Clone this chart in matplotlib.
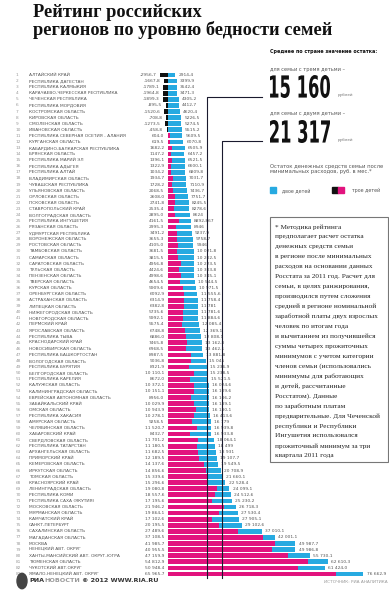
import matplotlib
matplotlib.use('Agg')
import matplotlib.pyplot as plt
import matplotlib.transforms as mtransforms
from matplotlib.patches import Rectangle, Circle, PathPatch
from matplotlib.textpath import TextPath
from matplotlib.font_manager import FontProperties

# Регионы и значения остатка (руб. в мес.)
regions = [
    "АЛТАЙСКИЙ КРАЙ", "РЕСПУБЛИКА ДАГЕСТАН", "РЕСПУБЛИКА КАЛМЫКИЯ",
    "КАРАЧАЕВО-ЧЕРКЕССКАЯ РЕСПУБЛИКА", "ЧЕЧЕНСКАЯ РЕСПУБЛИКА", "РЕСПУБЛИКА МОРДОВИЯ",
    "КОСТРОМСКАЯ ОБЛАСТЬ", "КИРОВСКАЯ ОБЛАСТЬ", "СМОЛЕНСКАЯ ОБЛАСТЬ", "ИВАНОВСКАЯ ОБЛАСТЬ",
    "РЕСПУБЛИКА СЕВЕРНАЯ ОСЕТИЯ - АЛАНИЯ", "КУРГАНСКАЯ ОБЛАСТЬ",
    "КАБАРДИНО-БАЛКАРСКАЯ РЕСПУБЛИКА", "БРЯНСКАЯ ОБЛАСТЬ", "РЕСПУБЛИКА МАРИЙ ЭЛ",
    "РЕСПУБЛИКА АДЫГЕЯ", "РЕСПУБЛИКА АЛТАЙ", "ВЛАДИМИРСКАЯ ОБЛАСТЬ", "ЧУВАШСКАЯ РЕСПУБЛИКА",
    "УЛЬЯНОВСКАЯ ОБЛАСТЬ", "ОРЛОВСКАЯ ОБЛАСТЬ", "ПСКОВСКАЯ ОБЛАСТЬ", "СТАВРОПОЛЬСКИЙ КРАЙ",
    "ВОЛГОГРАДСКАЯ ОБЛАСТЬ", "РЕСПУБЛИКА ИНГУШЕТИЯ", "РЯЗАНСКАЯ ОБЛАСТЬ",
    "УДМУРТСКАЯ РЕСПУБЛИКА", "ВОРОНЕЖСКАЯ ОБЛАСТЬ", "РОСТОВСКАЯ ОБЛАСТЬ",
    "ТАМБОВСКАЯ ОБЛАСТЬ", "САМАРСКАЯ ОБЛАСТЬ", "САРАТОВСКАЯ ОБЛАСТЬ", "ТУЛЬСКАЯ ОБЛАСТЬ",
    "ПЕНЗЕНСКАЯ ОБЛАСТЬ", "ТВЕРСКАЯ ОБЛАСТЬ", "КУРСКАЯ ОБЛАСТЬ", "ОРЕНБУРГСКАЯ ОБЛАСТЬ",
    "АСТРАХАНСКАЯ ОБЛАСТЬ", "ЛИПЕЦКАЯ ОБЛАСТЬ", "НИЖЕГОРОДСКАЯ ОБЛАСТЬ",
    "НОВГОРОДСКАЯ ОБЛАСТЬ", "ПЕРМСКИЙ КРАЙ", "ЯРОСЛАВСКАЯ ОБЛАСТЬ", "РЕСПУБЛИКА ТЫВА",
    "КРАСНОДАРСКИЙ КРАЙ", "НОВОСИБИРСКАЯ ОБЛАСТЬ", "РЕСПУБЛИКА БАШКОРТОСТАН",
    "ВОЛОГОДСКАЯ ОБЛАСТЬ", "РЕСПУБЛИКА БУРЯТИЯ", "БЕЛГОРОДСКАЯ ОБЛАСТЬ",
    "РЕСПУБЛИКА КАРЕЛИЯ", "КАЛУЖСКАЯ ОБЛАСТЬ", "КАЛИНИНГРАДСКАЯ ОБЛАСТЬ",
    "ЕВРЕЙСКАЯ АВТОНОМНАЯ ОБЛАСТЬ", "ЗАБАЙКАЛЬСКИЙ КРАЙ", "ОМСКАЯ ОБЛАСТЬ",
    "РЕСПУБЛИКА ХАКАСИЯ", "АМУРСКАЯ ОБЛАСТЬ", "ЧЕЛЯБИНСКАЯ ОБЛАСТЬ", "ХАБАРОВСКИЙ КРАЙ",
    "СВЕРДЛОВСКАЯ ОБЛАСТЬ", "РЕСПУБЛИКА ТАТАРСТАН", "АРХАНГЕЛЬСКАЯ ОБЛАСТЬ",
    "ПРИМОРСКИЙ КРАЙ", "КЕМЕРОВСКАЯ ОБЛАСТЬ", "ИРКУТСКАЯ ОБЛАСТЬ", "ТОМСКАЯ ОБЛАСТЬ",
    "КРАСНОЯРСКИЙ КРАЙ", "ЛЕНИНГРАДСКАЯ ОБЛАСТЬ", "РЕСПУБЛИКА КОМИ",
    "РЕСПУБЛИКА САХА (ЯКУТИЯ)", "МОСКОВСКАЯ ОБЛАСТЬ", "МУРМАНСКАЯ ОБЛАСТЬ",
    "КАМЧАТСКИЙ КРАЙ", "САНКТ-ПЕТЕРБУРГ", "САХАЛИНСКАЯ ОБЛАСТЬ", "МАГАДАНСКАЯ ОБЛАСТЬ",
    "МОСКВА", "НЕНЕЦКИЙ АВТ. ОКРУГ", "ХАНТЫ-МАНСИЙСКИЙ АВТ. ОКРУГ-ЮГРА",
    "ТЮМЕНСКАЯ ОБЛАСТЬ", "ЧУКОТСКИЙ АВТ.ОКРУГ", "ЯМАЛО-НЕНЕЦКИЙ АВТ. ОКРУГ",
]

# трое детей
three_kids = [
    "-2956,7", "-1667,8", "-1789,1", "-1964,8", "-1899,3", "-895,5", "-1520,6", "-708,8",
    "-1273,5", "-458,8", "604,0", "619,5", "1682,2", "1147,2", "1396,1", "1322,9",
    "1034,2", "1934,7", "1728,2", "2068,5", "2608,0", "2741,8", "2535,4", "2895,0",
    "4161,5", "2995,3", "3491,2", "3655,3", "4105,0", "3681,5", "3815,5", "4956,8",
    "4424,6", "4998,6", "4654,5", "5909,6", "6092,9", "6314,9", "6382,8", "5735,6",
    "5992,1", "5575,4", "6748,8", "6886,0", "7465,8", "6968,5", "8987,5", "9036,8",
    "8321,9", "10 110,1", "8672,0", "10 372,1", "10 151,1", "8956,0", "10 029,9",
    "10 943,9", "10 278,1", "9258,5", "11 520,7", "8432,7", "11 701,2", "11 180,5",
    "11 682,5", "12 189,5", "14 137,6", "14 856,6", "15 339,6", "15 296,6", "19 080,8",
    "18 557,6", "17 195,6", "21 946,2", "19 864,1", "17 102,6", "20 195,5", "27 489,6",
    "37 108,5", "41 985,7", "40 955,5", "47 159,9", "54 812,9", "50 948,4", "65 965,7",
]

# двое детей
two_kids = [
    "2914,4", "3399,9", "3542,4", "3471,3", "4305,2", "4412,7", "4620,4", "5226,5",
    "5274,5", "5515,2", "5609,5", "6070,8", "6505,9", "6457,2", "6521,5", "6600,1",
    "6809,8", "7031,7", "7110,9", "7436,7", "7751,7", "8245,5", "8278,6", "8624",
    "8892,867", "8946", "9237,9", "9758,7", "9946", "10 021,8", "10 202,5", "10 223,5",
    "10 303,8", "10 345,1", "10 544,5", "10 971,5", "11 555,6", "11 758,4", "11 781",
    "11 781,6", "11 884,6", "12 085,4", "12 369,1", "12 808,1", "13 162,8", "13 462,1",
    "13 881,8", "15 045", "15 236,9", "15 238,5", "15 521,5", "16 024,6", "16 109,6",
    "16 106,2", "16 189,1", "16 180,1", "16 413,6", "16 779", "16 939,8", "16 933,8",
    "18 064,1", "18 499", "18 931", "19 107,7", "19 549,5", "20 708,9", "21 660,1",
    "22 528,4", "24 099,1", "24 512,6", "25 230,2", "26 718,3", "27 530,4", "27 905,1",
    "29 102,6", "37 010,1", "42 001,1", "49 987,7", "49 986,8", "55 730,1", "62 610,3",
    "61 424,0", "76 662,9",
]

averages = [15160, 21317]
avg_labels = ["15 160", "21 317"]

footnote_lines = [
    "* Методика рейтинга", "предполагает расчет остатка", "денежных средств семьи",
    "в регионе после минимальных", "расходов на основании данных",
    "Росстата за 2011 год. Расчет для", "семьи, в целях ранжирования,",
    "производился путем сложения", "средней в регионе номинальной",
    "заработной платы двух взрослых", "человек по итогам года",
    "и вычитанием из получившейся", "суммы четырех прожиточных",
    "минимумов с учетом категории", "членов семьи (использовались",
    "минимумы для работающих", "и детей, рассчитанные", "Росстатом). Данные",
    "по заработным платам", "предварительные. Для Чеченской", "республики и Республики",
    "Ингушетия использовался", "прожиточный минимум за три", "квартала 2011 года",
]

BLUE = '#27aae1'
MAGENTA = '#e2137e'
BLACK = '#111111'
NARROW = ['Liberation Sans Narrow', 'DejaVu Sans']
SERIF = ['Liberation Serif', 'DejaVu Serif']


def to_num(s):
    return float(s.replace(' ', '').replace(',', '.'))


v3 = [to_num(s) for s in three_kids]
v2 = [to_num(s) for s in two_kids]
rows = list(range(1, len(regions) + 1))

W, H = 389, 600
fig = plt.figure(figsize=(W / 100, H / 100), dpi=100)


def fx(px):
    return px / W


def fy(py):
    return 1 - py / H


# оси с полосами: ноль на 168 px, 2.55 px на 1000 руб.
x0, scale = 168, 2.55 / 1000
ax_l, ax_r = 140, 389
ax_t, ax_b = 70, 578
ax = fig.add_axes([fx(ax_l), fy(ax_b), (ax_r - ax_l) / W, (ax_b - ax_t) / H])
ax.set_xlim((ax_l - x0) / scale, (ax_r - x0) / scale)
row_pitch = 6.085
ax.set_ylim(1 + (ax_b - 75) / row_pitch, 1 + (ax_t - 75) / row_pitch)
ax.axis('off')

bh = 0.78
ax.barh(rows, v2, height=bh, color=BLUE, zorder=2)
pos3 = [max(v, 0) for v in v3]
neg3 = [min(v, 0) for v in v3]
ax.barh(rows, pos3, height=bh, color=MAGENTA, zorder=3)
ax.barh(rows, neg3, height=bh, color=BLACK, zorder=3)

# линии средних значений
line_top_rows = [1 + (97 - 75) / row_pitch, 1 + (141 - 75) / row_pitch]
x_end = (262 - x0) / scale
for avg, ytop in zip(averages, line_top_rows):
    ax.plot([avg, avg, x_end], [83.6, ytop, ytop], color='#1a1a2e', lw=0.8,
            zorder=5, clip_on=False)

# подписи строк
tr = mtransforms.blended_transform_factory(fig.transFigure, ax.transData)
for r, name, s3, s2, a, b in zip(rows, regions, three_kids, two_kids, v3, v2):
    ax.text(fx(16), r, str(r), transform=tr, fontsize=3.1, color='#999999',
            va='center', ha='left', family=NARROW)
    ax.text(fx(29), r, name, transform=tr, fontsize=3.2, color='#555555',
            va='center', ha='left', family=NARROW)
    ax.annotate(s3, (min(a, 0), r), xytext=(-2.6, 0), textcoords='offset points',
                fontsize=3.2, color='#555555', va='center', ha='right', family=NARROW)
    ax.annotate(s2, (b, r), xytext=(2.2, 0), textcoords='offset points',
                fontsize=3.2, color='#555555', va='center', ha='left', family=NARROW)

# заголовок
fig.text(fx(33), fy(4), "Рейтинг российских\nрегионов по уровню бедности семей",
         fontsize=13.2, fontweight='bold', family=SERIF,
         va='top', ha='left', linespacing=1.0, color='#111111')


# крупные цифры в узком начертании
def big_number(s, left, top, bottom, width):
    tp = TextPath((0, 0), s, size=1,
                  prop=FontProperties(family='Liberation Sans Narrow', weight='bold'))
    ext = tp.get_extents()
    t = (mtransforms.Affine2D().translate(-ext.x0, -ext.y0)
         .scale(width / ext.width, (bottom - top) / ext.height)
         .translate(left, H - bottom))
    fig.patches.append(PathPatch(tp, transform=t, facecolor='#111111', lw=0, figure=fig))


# правая панель
fig.text(fx(270), fy(52), "Среднее по стране значение остатка:", fontsize=3.55,
         fontweight='bold', family=NARROW, va='center', color='#111111')
subs = ["для семьи с тремя детьми –", "для семьи с двумя детьми –"]
sub_y = [69, 113]
big_top = [75, 120]
for s, sy, bt, lab in zip(subs, sub_y, big_top, avg_labels):
    fig.text(fx(270), fy(sy), s, fontsize=3.6, family=NARROW, va='center', color='#555555')
    big_number(lab, 270, bt, bt + 23, 60)
    fig.text(fx(338), fy(bt + 21), "рублей", fontsize=3.0, family=NARROW,
             va='baseline', color='#777777')

fig.text(fx(270), fy(169), "Остаток денежных средств семьи после\nминимальных расходов, руб. в мес.*",
         fontsize=3.8, family=NARROW, va='center', color='#555555', linespacing=1.1)

fig.patches.append(Rectangle((fx(270), fy(193)), fx(6), 6 / H, transform=fig.transFigure,
                             color=BLUE, figure=fig))
fig.text(fx(282), fy(190.5), "двое детей", fontsize=3.4, family=NARROW, va='center',
         color='#555555')
fig.patches.append(Rectangle((fx(332), fy(193)), fx(6), 6 / H, transform=fig.transFigure,
                             color=BLACK, figure=fig))
fig.patches.append(Rectangle((fx(338), fy(193)), fx(6), 6 / H, transform=fig.transFigure,
                             color=MAGENTA, figure=fig))
fig.text(fx(352), fy(190.5), "трое детей", fontsize=3.4, family=NARROW, va='center',
         color='#555555')

# сноска в рамке, строки по отдельности
fig.patches.append(Rectangle((fx(270), fy(462)), fx(118), (462 - 217) / H,
                             transform=fig.transFigure, fill=False, edgecolor='#777777',
                             lw=0.8, figure=fig))
line_step = 9.95
for i, line in enumerate(footnote_lines):
    fig.text(fx(275), fy(227 + i * line_step), line, fontsize=5.2, family=SERIF,
             va='center', ha='left', color='#222222')

# подвал
fig.patches.append(Circle((fx(22), fy(581)), 5 / W, transform=fig.transFigure,
                          color='#444444', figure=fig))
t1 = fig.text(fx(29), fy(581), "РИА", fontsize=4.6, fontweight='bold', family=NARROW,
              va='center', color='#333333')
t2 = plt.annotate("НОВОСТИ", xy=(1, 0.5), xycoords=t1, xytext=(0, 0),
                  textcoords='offset points', fontsize=4.6, fontweight='bold',
                  family=NARROW, va='center', ha='left', color='#999999')
plt.annotate("© 2012 WWW.RIA.RU", xy=(1, 0.5), xycoords=t2, xytext=(1.5, 0),
             textcoords='offset points', fontsize=4.6, fontweight='bold',
             family=NARROW, va='center', ha='left', color='#333333')
fig.text(fx(388), fy(582), "ИСТОЧНИК: РИА АНАЛИТИКА", fontsize=3.1, family=NARROW,
         va='center', ha='right', color='#999999')

fig.savefig('out.png', dpi=100)
